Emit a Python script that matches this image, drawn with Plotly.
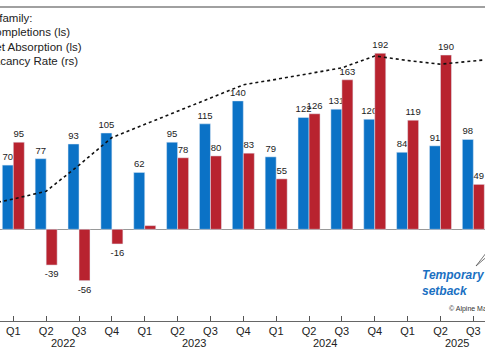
import plotly.graph_objects as go

# Quarter index: -1 = Q4 2021 ... 15 = Q4 2025
quarters = ["Q4", "Q1", "Q2", "Q3", "Q4", "Q1", "Q2", "Q3", "Q4",
            "Q1", "Q2", "Q3", "Q4", "Q1", "Q2", "Q3", "Q4"]
years = ["2022", "2023", "2024", "2025"]
completions = [None, 70, 77, 93, 105, 62, 95, 115, 140, 79, 122, 131, 120, 84, 91, 98, None]
net_absorption = [None, 95, -39, -56, -16, 4, 78, 80, 83, 55, 126, 163, 192, 119, 190, 49, None]
absorption_labels = ["", "95", "-39", "-56", "-16", "", "78", "80", "83", "55", "126", "163",
                     "192", "119", "190", "49", ""]
vacancy_rate = [4.51, 4.66, 4.83, 5.40, 6.00, 6.29, 6.58, 6.86, 7.15, 7.27, 7.40, 7.52,
                7.78, 7.68, 7.60, 7.67, 7.74]

xs = list(range(-1, len(quarters) - 1))
FONT = "Liberation Sans, Arial, sans-serif"
BLUE = "#0b72c6"
RED = "#b8232f"

# plot area spans y = 7 .. 321 px (314 px high)
PH = 314.0
def py(ypx):
    return (321 - ypx) / PH

fig = go.Figure()
fig.add_trace(go.Bar(
    x=xs, y=completions, name="Completions (ls)", marker_color=BLUE,
    text=[("" if v is None else str(v)) for v in completions],
    textposition="outside", textfont=dict(size=9.5, color="#222", family=FONT),
    constraintext="none", cliponaxis=False,
))
fig.add_trace(go.Bar(
    x=xs, y=net_absorption, name="Net Absorption (ls)", marker_color=RED,
    text=absorption_labels,
    textposition="outside", textfont=dict(size=9.5, color="#222", family=FONT),
    constraintext="none", cliponaxis=False,
))
fig.add_trace(go.Scatter(
    x=xs, y=vacancy_rate, name="Vacancy Rate (rs)", yaxis="y2", mode="lines",
    line=dict(color="#111", width=1.6, dash="dot"),
))

annotations = []
# legend (cut at left edge, as in the reference)
legend_lines = [("Multifamily:", -27), ("Completions (ls)", -15),
                ("Net Absorption (ls)", -15), ("Vacancy Rate (rs)", -15)]
for i, (txt, xs_) in enumerate(legend_lines):
    ypx = 18 + i * 14.3
    annotations.append(dict(text=txt, xref="paper", yref="paper", x=0, xshift=xs_,
                            y=py(ypx), xanchor="left", yanchor="middle",
                            showarrow=False, font=dict(size=11.5, color="#222", family=FONT)))
# years
for j, yr in enumerate(years):
    annotations.append(dict(text=yr, xref="x", yref="paper", x=1.5 + 4 * j,
                            y=py(343), xanchor="center", yanchor="middle",
                            showarrow=False, font=dict(size=11, color="#222", family=FONT)))
# note
annotations.append(dict(text="<b><i>Temporary<br>setback</i></b>", xref="paper", yref="paper",
                        x=420 / 485, y=py(283), xanchor="left", yanchor="middle",
                        align="left", showarrow=False,
                        font=dict(size=12, color="#1a70c2", family=FONT)))
annotations.append(dict(text="© Alpine Macro", xref="paper", yref="paper",
                        x=447 / 485, y=py(309), xanchor="left", yanchor="middle",
                        showarrow=False, font=dict(size=7, color="#333", family=FONT)))

shapes = [
    dict(type="line", xref="paper", yref="paper", x0=0, x1=1,
         y0=1, y1=1, line=dict(color="#808080", width=1.5)),
    dict(type="line", xref="paper", yref="paper", x0=476 / 485, x1=490 / 485,
         y0=py(266), y1=py(248), line=dict(color="#555", width=0.8)),
    dict(type="line", xref="paper", yref="paper", x0=476 / 485, x1=490 / 485,
         y0=py(266), y1=py(254), line=dict(color="#555", width=0.8)),
]

fig.update_layout(
    width=485, height=360,
    margin=dict(l=0, r=0, t=7, b=39),
    plot_bgcolor="white", paper_bgcolor="white",
    barmode="group", bargap=0.33, bargroupgap=0,
    showlegend=False,
    font=dict(family=FONT, color="#222"),
    xaxis=dict(range=[-0.405, 14.355], tickmode="array", tickvals=xs, ticktext=quarters,
               ticks="inside", ticklen=5, tickcolor="#555", showline=True, linecolor="#666",
               linewidth=1.2, showgrid=False, zeroline=False,
               tickfont=dict(size=11, color="#222", family=FONT)),
    yaxis=dict(range=[-100, 242.4], showticklabels=False, showgrid=False, ticks="",
               zeroline=True, zerolinecolor="#999", zerolinewidth=1, showline=False),
    yaxis2=dict(range=[2, 2 + 314 / 45.857], overlaying="y", side="right",
                showticklabels=False, showgrid=False, zeroline=False, ticks="",
                showline=False),
    annotations=annotations, shapes=shapes,
)

fig.write_html("out.html", config={"displayModeBar": False},
               post_script="document.body.style.margin='0';")
